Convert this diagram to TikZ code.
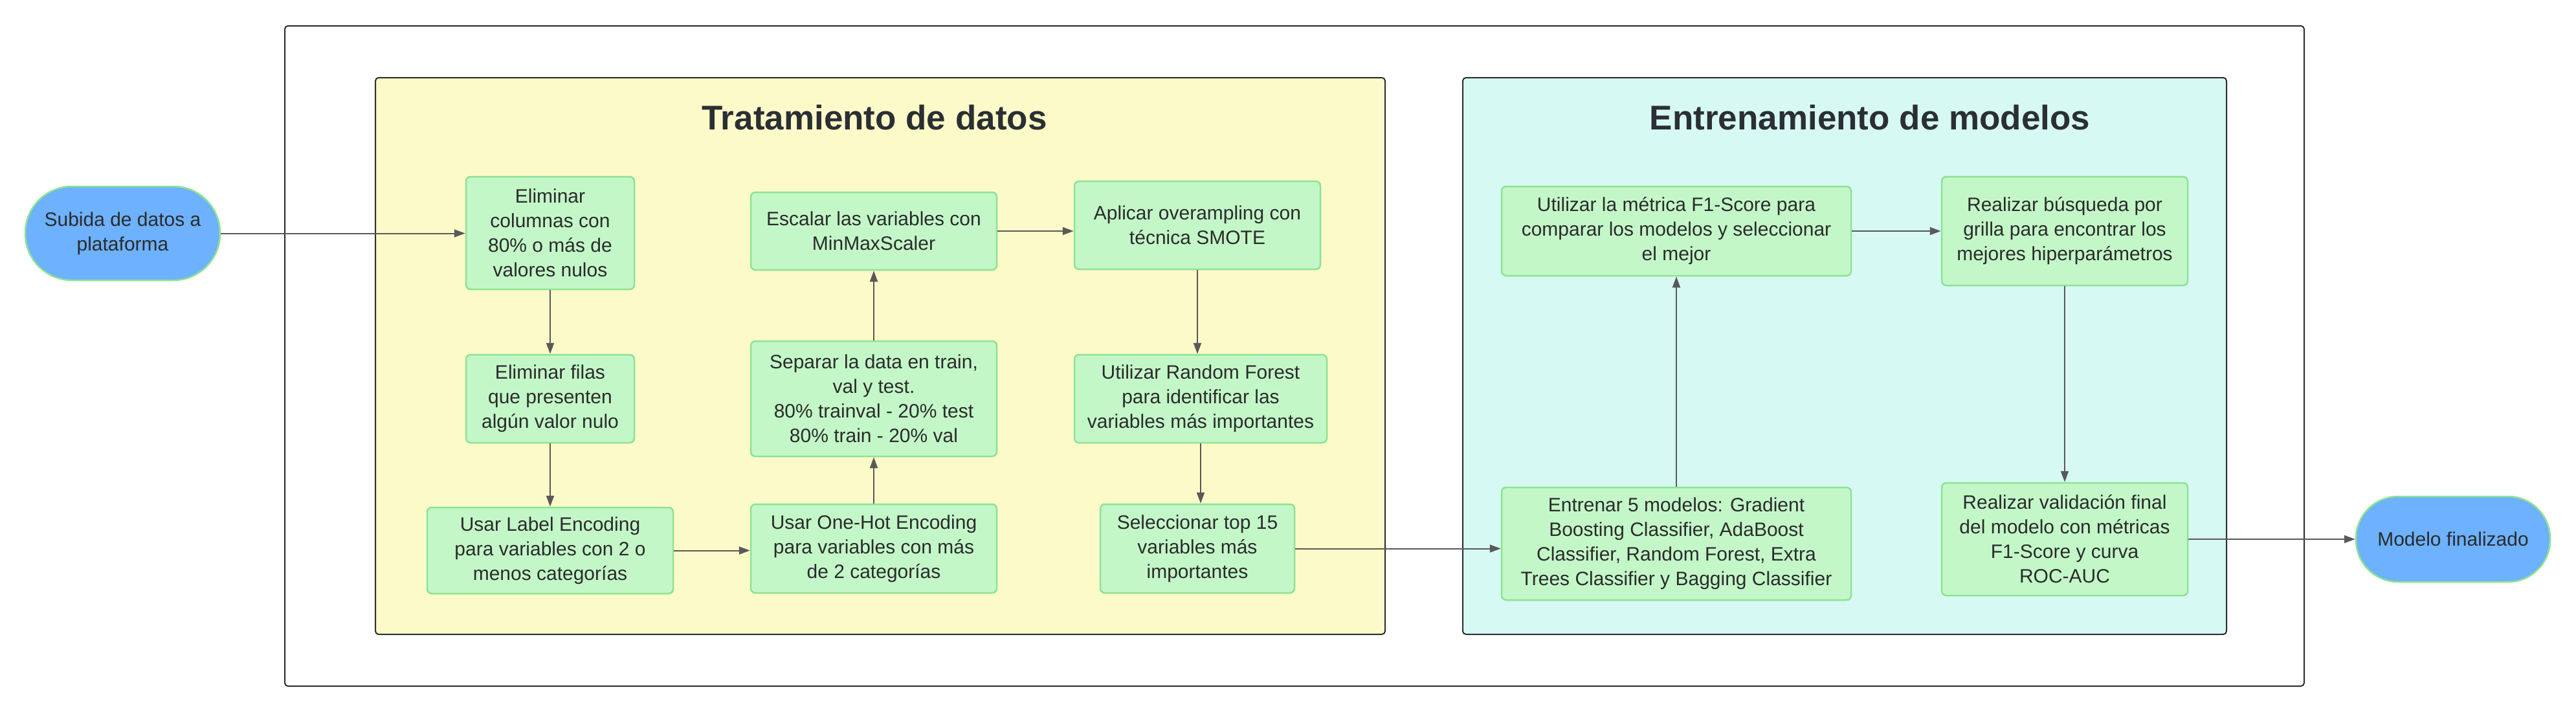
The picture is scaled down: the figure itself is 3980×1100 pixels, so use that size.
\documentclass[tikz,border=0pt]{standalone}
\usepackage{fontspec}
\setmainfont{Liberation Sans}
\usetikzlibrary{arrows.meta}
\definecolor{boxfill}{HTML}{C3F7C8}
\definecolor{boxline}{HTML}{8EE393}
\definecolor{pillfill}{HTML}{6DB1FF}
\definecolor{yelfill}{HTML}{FCFAC9}
\definecolor{cyanfill}{HTML}{D7F9F3}
\definecolor{framec}{HTML}{2B2F33}
\definecolor{arrowc}{HTML}{595959}
\definecolor{txtc}{HTML}{2B2B2B}
\begin{document}
\begin{tikzpicture}[x=1pt,y=-1pt,
  container/.style={draw=framec, line width=2pt, rounded corners=5pt, inner sep=0pt},
  procbox/.style={draw=boxline, fill=boxfill, line width=2.5pt, rounded corners=7pt, inner sep=0pt,
     align=center, text=txtc, font=\fontsize{30}{38}\selectfont},
  pill/.style={draw=boxline, fill=pillfill, line width=2.5pt, inner sep=0pt,
     align=center, text=txtc, font=\fontsize{30}{38}\selectfont},
  titletext/.style={anchor=base, text=framec, inner sep=0pt, font=\fontsize{53}{60}\selectfont\bfseries},
  flow/.style={draw=arrowc, line width=2pt, -{Triangle[length=17pt,width=12pt]}}
]
\useasboundingbox (0,0) rectangle (3980,1100);
\fill[white] (0,0) rectangle (3980,1100);

% containers
\node[container, fill=white, minimum width=3120pt, minimum height=1020pt] (frame) at (2000,550) {};
\node[container, fill=yelfill, minimum width=1560pt, minimum height=860pt] (trat) at (1360,550) {};
\node[container, fill=cyanfill, minimum width=1180pt, minimum height=860pt] (entr) at (2850,550) {};
\node[titletext] (ttrat) at (1351,200) {Tratamiento de datos};
\node[titletext] (tentr) at (2889,200) {Entrenamiento de modelos};

% terminals
\node[pill, rounded corners=72pt, minimum width=301pt, minimum height=145pt] (subida) at (189.5,360.5) {Subida de datos a\\plataforma};
\node[pill, rounded corners=65pt, minimum width=300pt, minimum height=132pt] (modelo) at (3790,833) {Modelo finalizado};

% data treatment
\node[procbox, minimum width=260pt, minimum height=174pt] (elimcol) at (850,360) {Eliminar\\columnas con\\80\% o más de\\valores nulos};
\node[procbox, minimum width=260pt, minimum height=136pt] (elimfil) at (850,616) {Eliminar filas\\que presenten\\algún valor nulo};
\node[procbox, minimum width=380pt, minimum height=133pt] (labelenc) at (850,850.5) {Usar Label Encoding\\para variables con 2 o\\menos categorías};
\node[procbox, minimum width=380pt, minimum height=137pt] (onehot) at (1350,847.5) {Usar One-Hot Encoding\\para variables con más\\de 2 categorías};
\node[procbox, minimum width=380pt, minimum height=178pt] (separar) at (1350,616) {Separar la data en train,\\val y test.\\80\% trainval - 20\% test\\80\% train - 20\% val};
\node[procbox, minimum width=380pt, minimum height=120pt] (escalar) at (1350,357) {Escalar las variables con\\MinMaxScaler};
\node[procbox, minimum width=380pt, minimum height=136pt] (aplicar) at (1850,348) {Aplicar overampling con\\técnica SMOTE};
\node[procbox, minimum width=390pt, minimum height=136pt] (rf) at (1855,616) {Utilizar Random Forest\\para identificar las\\variables más importantes};
\node[procbox, minimum width=300pt, minimum height=137pt] (selec) at (1850,847.5) {Seleccionar top 15\\variables más\\importantes};

% model training
\node[procbox, minimum width=540pt, minimum height=174pt] (entrenar) at (2590,840) {Entrenar 5 modelos: Gradient\\Boosting Classifier, AdaBoost\\Classifier, Random Forest, Extra\\Trees Classifier y Bagging Classifier};
\node[procbox, minimum width=540pt, minimum height=138pt] (utilizar) at (2590,357) {Utilizar la métrica F1-Score para\\comparar los modelos y seleccionar\\el mejor};
\node[procbox, minimum width=380pt, minimum height=168pt] (busqueda) at (3190,357) {Realizar búsqueda por\\grilla para encontrar los\\mejores hiperparámetros};
\node[procbox, minimum width=380pt, minimum height=174pt] (validacion) at (3190,833) {Realizar validación final\\del modelo con métricas\\F1-Score y curva\\ROC-AUC};

% connectors
\draw[flow] (subida.east) -- (subida.east -| elimcol.west);
\draw[flow] (elimcol.south) -- (elimfil.north);
\draw[flow] (elimfil.south) -- (labelenc.north);
\draw[flow] (labelenc.east) -- (labelenc.east -| onehot.west);
\draw[flow] (onehot.north) -- (separar.south);
\draw[flow] (separar.north) -- (escalar.south);
\draw[flow] (escalar.east) -- (escalar.east -| aplicar.west);
\draw[flow] (aplicar.south) -- (aplicar.south |- rf.north);
\draw[flow] (rf.south) -- (rf.south |- selec.north);
\draw[flow] (selec.east) -- (selec.east -| entrenar.west);
\draw[flow] (entrenar.north) -- (utilizar.south);
\draw[flow] (utilizar.east) -- (busqueda.west);
\draw[flow] (busqueda.south) -- (validacion.north);
\draw[flow] (validacion.east) -- (modelo.west);
\end{tikzpicture}
\end{document}
